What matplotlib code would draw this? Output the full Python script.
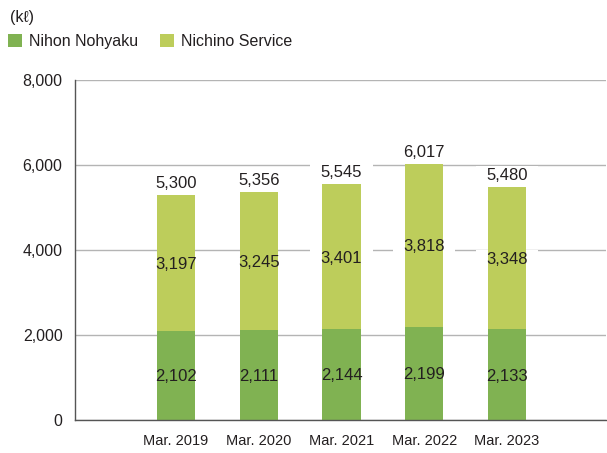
"""Stacked bars of volume by company, Mar. 2019 to Mar. 2023."""

import matplotlib
matplotlib.use('Agg')
import matplotlib.pyplot as plt
import numpy as np


PERIODS = ['Mar. 2019', 'Mar. 2020', 'Mar. 2021', 'Mar. 2022', 'Mar. 2023']
NIHON_NOHYAKU = [2102, 2111, 2144, 2199, 2133]
NICHINO_SERVICE = [3197, 3245, 3401, 3818, 3348]
TOTALS = [5300, 5356, 5545, 6017, 5480]
SERIES_NAMES = ['Nihon Nohyaku', 'Nichino Service']
Y_TICKS = [0, 2000, 4000, 6000, 8000]

DARK_GREEN = '#80b252'
LIGHT_GREEN = '#bdcd5b'
TEXT_COLOR = '#231f20'
FONT = ['Liberation Sans', 'DejaVu Sans']
FONT_SIZE = 11.5
LABEL_SIZE = 12


def value_label(axis, x, y, text, va='center_baseline', offset=0):
  # A blank white box sits between the grid and the bars, so it only
  # breaks the gridlines around the label, as in the original.
  axis.annotate(
      ' ' * 13, (x, y), xytext=(0, offset), textcoords='offset points',
      ha='center', va=va, fontsize=FONT_SIZE, zorder=1.5,
      bbox=dict(boxstyle='square,pad=0.12', fc='white', ec='none'))
  axis.annotate(
      text, (x, y), xytext=(0, offset), textcoords='offset points',
      ha='center', va=va, fontsize=LABEL_SIZE, color=TEXT_COLOR, zorder=5)


def main():
  plt.rcParams['font.family'] = FONT
  fig = plt.figure(figsize=(6.07, 4.53), dpi=100)
  axis = fig.add_axes([0.1236, 0.0728, 0.874, 0.7506])

  x = np.arange(len(PERIODS))
  width = 0.46
  axis.bar(x, NIHON_NOHYAKU, width, color=DARK_GREEN, zorder=2,
           label=SERIES_NAMES[0])
  axis.bar(x, NICHINO_SERVICE, width, bottom=NIHON_NOHYAKU,
           color=LIGHT_GREEN, zorder=2, label=SERIES_NAMES[1])

  for i in range(len(PERIODS)):
    lower = NIHON_NOHYAKU[i]
    upper = NICHINO_SERVICE[i]
    value_label(axis, x[i], lower / 2, f'{lower:,}')
    value_label(axis, x[i], lower + upper / 2, f'{upper:,}')
    value_label(axis, x[i], lower + upper, f'{TOTALS[i]:,}',
                va='bottom', offset=3)

  axis.set_xlim(-1.22, 5.19)
  axis.set_ylim(0, 8000)
  axis.set_yticks(Y_TICKS)
  axis.set_yticklabels([f'{tick:,}' for tick in Y_TICKS])
  axis.set_xticks(x)
  axis.set_xticklabels(PERIODS, fontsize=10.5)
  axis.tick_params(axis='y', length=0, pad=9, labelsize=FONT_SIZE,
                   labelcolor=TEXT_COLOR)
  axis.tick_params(axis='x', length=0, pad=10, labelcolor=TEXT_COLOR)
  axis.grid(axis='y', color='#b4b4b4', linewidth=1.0)
  axis.set_axisbelow(True)
  for side in ('top', 'right'):
    axis.spines[side].set_visible(False)
  for side in ('left', 'bottom'):
    axis.spines[side].set_color('#555555')
    axis.spines[side].set_linewidth(1.0)

  fig.text(0.016, 0.962, '(kℓ)', ha='left', va='center',
           fontsize=FONT_SIZE, color=TEXT_COLOR)
  fig.legend(loc='upper left', bbox_to_anchor=(0.014, 0.925), ncol=2,
             frameon=False, handlelength=0.85, handleheight=0.85,
             handletextpad=0.45, columnspacing=1.35, borderpad=0,
             borderaxespad=0, fontsize=FONT_SIZE,
             labelcolor=TEXT_COLOR)

  fig.savefig('out.png', dpi=100)
  plt.close(fig)


if __name__ == '__main__':
  main()
